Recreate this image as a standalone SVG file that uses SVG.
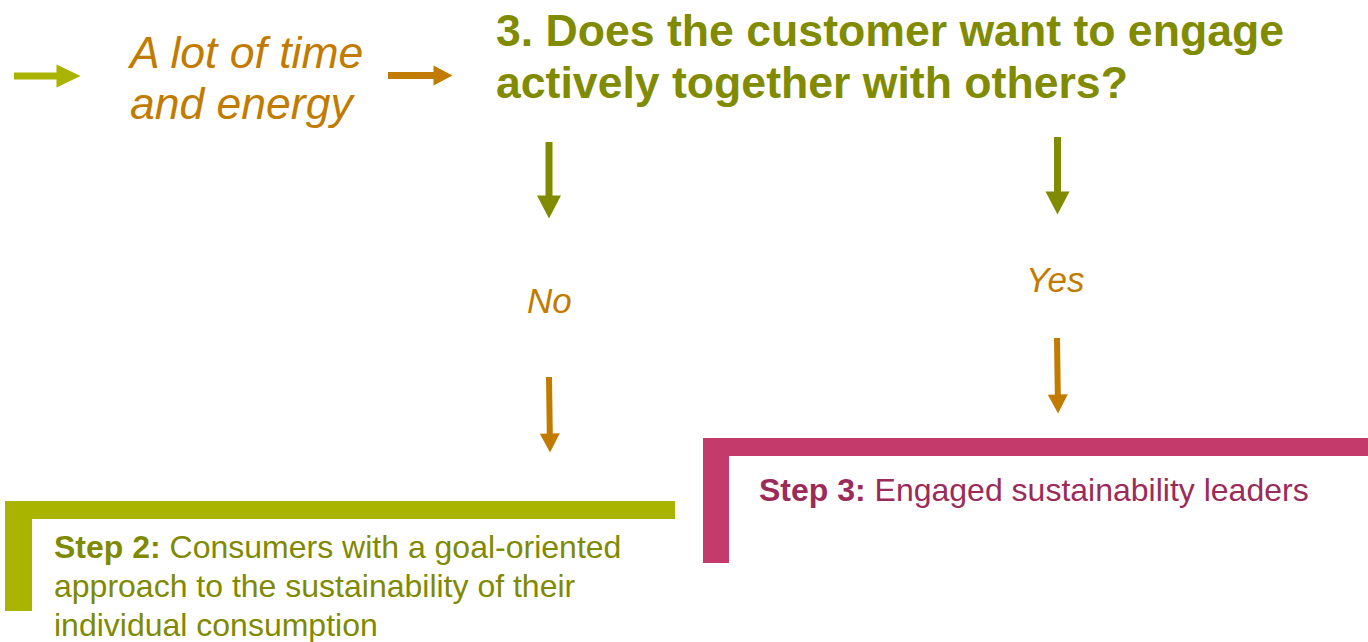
<svg xmlns="http://www.w3.org/2000/svg" width="1368" height="642" viewBox="0 0 1368 642">
  <style>
    text { font-family: "Liberation Sans", Arial, sans-serif; }
    .ital { font-style: italic; fill: #C17C00; }
    .title { font-weight: bold; font-size: 44.6px; fill: #818B00; }
    .s2 { font-size: 32px; fill: #808A00; }
    .s3 { font-size: 32px; fill: #9B2B59; }
    .b { font-weight: bold; }
    .conn { fill: none; }
  </style>
  <defs>
    <marker id="hG" markerUnits="userSpaceOnUse" markerWidth="25" markerHeight="24" refX="0.5" refY="12" orient="auto" overflow="visible">
      <path d="M0,0.5 L24,12 L0,23.5 z" fill="#A9B400"/>
    </marker>
    <marker id="hD" markerUnits="userSpaceOnUse" markerWidth="24" markerHeight="25" refX="0.5" refY="12" orient="auto" overflow="visible">
      <path d="M0,0 L23,12 L0,24 z" fill="#818B00"/>
    </marker>
    <marker id="hO" markerUnits="userSpaceOnUse" markerWidth="20" markerHeight="21" refX="0.5" refY="10" orient="auto" overflow="visible">
      <path d="M0,0 L19,10 L0,20 z" fill="#C17C00"/>
    </marker>
  </defs>

  <g id="connectors" class="conn">
    <path d="M14,76 L57,76" stroke="#A9B400" stroke-width="7" marker-end="url(#hG)"/>
    <path d="M388,75.5 L434,75.5" stroke="#C17C00" stroke-width="7" marker-end="url(#hO)"/>
    <path d="M549,142 L549,196" stroke="#818B00" stroke-width="7" marker-end="url(#hD)"/>
    <path d="M1057.5,137 L1057.5,192" stroke="#818B00" stroke-width="7" marker-end="url(#hD)"/>
    <path d="M549,377 L549.8,434" stroke="#C17C00" stroke-width="6" marker-end="url(#hO)"/>
    <path d="M1057,338 L1057.8,395" stroke="#C17C00" stroke-width="6" marker-end="url(#hO)"/>
  </g>

  <g id="time-energy">
    <text class="ital" font-size="44.5" x="130" y="68">A lot of time</text>
    <text class="ital" font-size="44.5" x="130" y="119">and energy</text>
  </g>

  <g id="question">
    <text class="title" x="496" y="46">3. Does the customer want to engage</text>
    <text class="title" x="496" y="98">actively together with others?</text>
  </g>

  <g id="no-label">
    <text class="ital" font-size="35" x="527" y="313">No</text>
  </g>

  <g id="yes-label">
    <text class="ital" font-size="35" x="1026" y="292">Yes</text>
  </g>

  <g id="step2">
    <rect x="5" y="501" width="670" height="18" fill="#A9B400"/>
    <rect x="5" y="501" width="27" height="110" fill="#A9B400"/>
    <text class="s2" x="54" y="558"><tspan class="b">Step 2:</tspan> Consumers with a goal-oriented</text>
    <text class="s2" x="54" y="597">approach to the sustainability of their</text>
    <text class="s2" x="54" y="636">individual consumption</text>
  </g>

  <g id="step3">
    <rect x="703" y="438" width="665" height="18" fill="#C43B6B"/>
    <rect x="703" y="438" width="26" height="125" fill="#C43B6B"/>
    <text class="s3" x="759" y="501"><tspan class="b">Step 3:</tspan> Engaged sustainability leaders</text>
  </g>
</svg>
